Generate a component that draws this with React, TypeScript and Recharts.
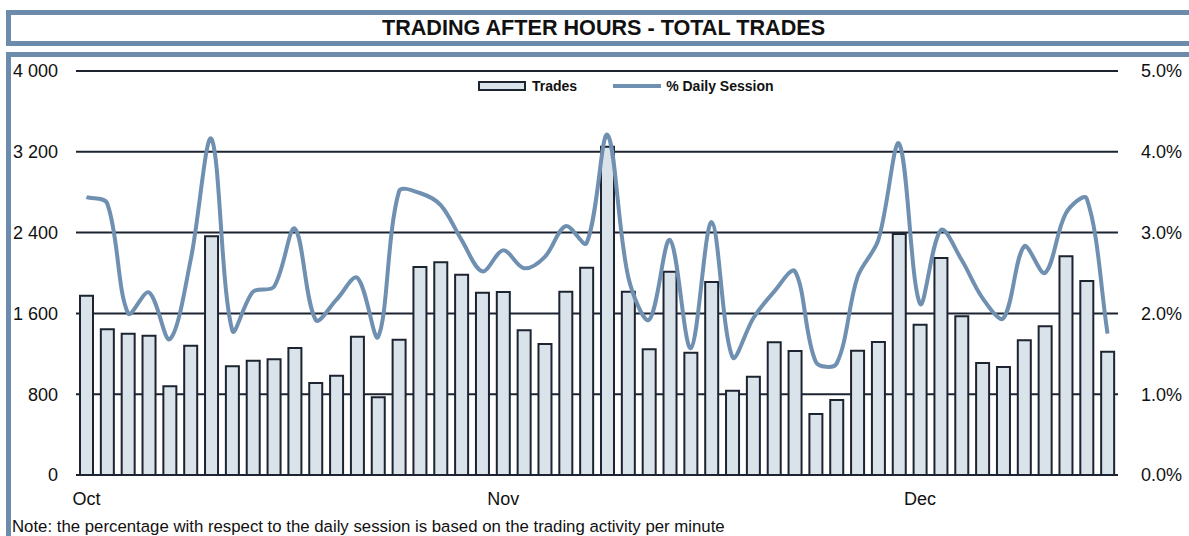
import { ComposedChart, Bar, Line, XAxis, YAxis, CartesianGrid, Legend } from 'recharts'

// trades per session, Oct -> Dec
const trades = [
  1775, 1442, 1399, 1379, 878, 1280, 2363, 1076, 1132, 1145,
  1257, 911, 983, 1370, 769, 1340, 2059, 2106, 1983, 1805,
  1812, 1432, 1297, 1815, 2053, 3251, 1815, 1244, 2013, 1211,
  1911, 835, 973, 1314, 1228, 604, 743, 1231, 1317, 2386,
  1488, 2149, 1571, 1109, 1069, 1333, 1472, 2165, 1921, 1221,
]

// % of daily session
const dailyPct = [
  3.44, 3.36, 2.0, 2.26, 1.68, 2.66, 4.16, 1.79, 2.27, 2.33,
  3.05, 1.92, 2.17, 2.44, 1.71, 3.51, 3.49, 3.34, 2.91, 2.52,
  2.78, 2.56, 2.7, 3.08, 2.87, 4.21, 2.45, 1.92, 2.91, 1.57,
  3.13, 1.46, 1.94, 2.27, 2.52, 1.4, 1.38, 2.45, 2.91, 4.1,
  2.12, 3.03, 2.66, 2.19, 1.94, 2.83, 2.5, 3.24, 3.42, 1.75,
]

const monthTicks = ['Oct', 'Nov', 'Dec']
const monthStartIdx = [0, 20, 40]

const leftTicks = [0, 800, 1600, 2400, 3200, 4000]
const rightTicks = [0, 1, 2, 3, 4, 5]

const FRAME = '#6d8bab'
const LINE_COLOR = '#7090b1'
const BAR_FILL = '#dae2ea'
const DARK = '#1c2431'

const data = trades.map((t, i) => ({ day: i, trades: t, pct: dailyPct[i] }))

const fmtThousands = (v: number) => String(v).replace(/\B(?=(\d{3})+(?!\d))/g, ' ')

// excel-like smoothed line: bezier with chord-length weighted tangents, used as a d3 curve factory
function excelSmooth(context: any) {
  let pts: number[][] = []
  const dist = (a: number[], b: number[]) => Math.hypot(b[0] - a[0], b[1] - a[1]) || 1
  const t = 1 / 3
  return {
    areaStart() {},
    areaEnd() {},
    lineStart() { pts = [] },
    point(x: number, y: number) { pts.push([+x, +y]) },
    lineEnd() {
      if (!pts.length) return
      context.moveTo(pts[0][0], pts[0][1])
      for (let i = 0; i < pts.length - 1; i++) {
        const p0 = pts[Math.max(i - 1, 0)]
        const p1 = pts[i]
        const p2 = pts[i + 1]
        const p3 = pts[Math.min(i + 2, pts.length - 1)]
        const d0 = i > 0 ? dist(p0, p1) : 0
        const d1 = dist(p1, p2)
        const d2 = i + 2 < pts.length ? dist(p2, p3) : 0
        const f1 = t * d1 / (d0 + d1)
        const f2 = t * d1 / (d1 + d2)
        context.bezierCurveTo(
          p1[0] + (p2[0] - p0[0]) * f1, p1[1] + (p2[1] - p0[1]) * f1,
          p2[0] - (p3[0] - p1[0]) * f2, p2[1] - (p3[1] - p1[1]) * f2,
          p2[0], p2[1],
        )
      }
    },
  }
}

function LegendBox() {
  return (
    <div style={{ display: 'flex', alignItems: 'center', paddingLeft: 478, fontSize: 14, fontWeight: 'bold', color: '#111' }}>
      <div style={{ width: 44, height: 6, background: BAR_FILL, border: `2px solid ${DARK}`, marginRight: 6 }} />
      <span>Trades</span>
      <div style={{ width: 48, height: 4, background: LINE_COLOR, marginLeft: 36, marginRight: 5 }} />
      <span>% Daily Session</span>
    </div>
  )
}

export default function App() {
  return (
    <div style={{ position: 'absolute', left: 0, top: 0, width: 1189, height: 536, overflow: 'hidden', background: '#fff', fontFamily: '"Liberation Sans", Arial, sans-serif' }}>
      {/* title frame */}
      <div style={{ position: 'absolute', left: 6, top: 10, width: 1200, height: 26, border: `5px solid ${FRAME}`, display: 'flex', alignItems: 'center', justifyContent: 'center' }}>
        <span style={{ fontSize: 21.6, fontWeight: 'bold', color: '#111', marginRight: 15 }}>TRADING AFTER HOURS - TOTAL TRADES</span>
      </div>
      {/* chart frame */}
      <div style={{ position: 'absolute', left: 6, top: 52, width: 1200, height: 500, borderTop: `5px solid ${FRAME}`, borderLeft: `5px solid ${FRAME}` }} />

      <div style={{ position: 'absolute', left: 0, top: 0 }}>
        <ComposedChart width={1189} height={536} data={data} margin={{ top: 71, right: 0, bottom: 0, left: 0 }} barSize={13}>
          <CartesianGrid vertical={false} stroke={DARK} strokeWidth={2} yAxisId="left" />
          <XAxis
            dataKey="day"
            height={61}
            axisLine={{ stroke: DARK, strokeWidth: 2 }}
            tickLine={false}
            tickSize={0}
            tickMargin={17}
            interval={0}
            ticks={monthStartIdx}
            tickFormatter={(v: number) => monthTicks[monthStartIdx.indexOf(v)] ?? ''}
            tick={{ fontSize: 18, fill: '#111' }}
          />
          <YAxis
            yAxisId="left"
            width={76}
            domain={[0, 4000]}
            ticks={leftTicks}
            axisLine={false}
            tickLine={false}
            tickSize={0}
            tickMargin={18}
            tickFormatter={fmtThousands}
            tick={{ fontSize: 18, fill: '#111' }}
          />
          <YAxis
            yAxisId="right"
            orientation="right"
            width={71}
            domain={[0, 5]}
            ticks={rightTicks}
            axisLine={false}
            tickLine={false}
            tickSize={0}
            tickMargin={23}
            tickFormatter={(v: number) => v.toFixed(1) + '%'}
            tick={{ fontSize: 18, fill: '#111' }}
          />
          <Legend verticalAlign="middle" layout="horizontal" wrapperStyle={{ top: 78, left: 0, width: 1189 }} content={() => <LegendBox />} />
          <Bar yAxisId="left" dataKey="trades" name="Trades" fill={BAR_FILL} stroke={DARK} strokeWidth={2} isAnimationActive={false} />
          <Line yAxisId="right" dataKey="pct" name="% Daily Session" type={excelSmooth as any} stroke={LINE_COLOR} strokeWidth={4} dot={false} isAnimationActive={false} />
        </ComposedChart>
      </div>

      <div style={{ position: 'absolute', left: 12, top: 517, fontSize: 16.8, color: '#111', whiteSpace: 'nowrap' }}>
        Note: the percentage with respect to the daily session is based on the trading activity per minute
      </div>
    </div>
  )
}
